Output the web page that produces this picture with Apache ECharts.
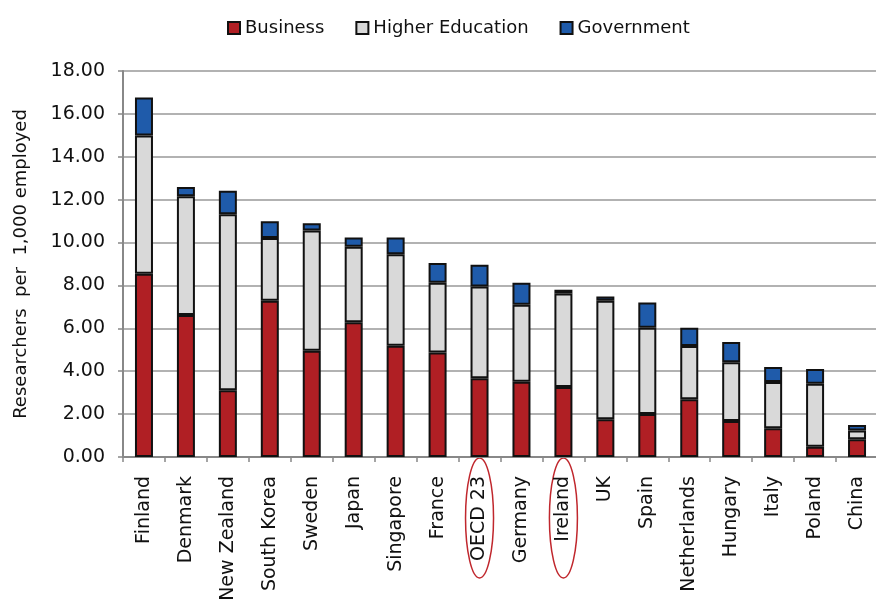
<!DOCTYPE html>
<html>
<head>
<meta charset="utf-8">
<script src="https://cdn.jsdelivr.net/npm/echarts@6/dist/echarts.min.js"></script>
<style>
  html, body { margin: 0; padding: 0; background: #fff; }
  #chart { width: 876px; height: 605px; }
</style>
</head>
<body>
<div id="chart"></div>
<script>
const countries = ['Finland', 'Denmark', 'New Zealand', 'South Korea', 'Sweden', 'Japan', 'Singapore', 'France', 'OECD 23', 'Germany', 'Ireland', 'UK', 'Spain', 'Netherlands', 'Hungary', 'Italy', 'Poland', 'China'];
const business = [8.54, 6.62, 3.11, 7.29, 4.96, 6.28, 5.19, 4.87, 3.67, 3.51, 3.26, 1.76, 2.01, 2.69, 1.68, 1.34, 0.48, 0.83];
const higherEd = [6.45, 5.54, 8.21, 2.92, 5.60, 3.53, 4.26, 3.25, 4.28, 3.59, 4.36, 5.53, 4.02, 2.49, 2.74, 2.16, 2.94, 0.41];
const government = [1.77, 0.43, 1.09, 0.78, 0.34, 0.42, 0.78, 0.93, 1.01, 1.03, 0.18, 0.19, 1.17, 0.85, 0.94, 0.70, 0.68, 0.25];
const circled = ['OECD 23', 'Ireland'];

const font = 'DejaVu Sans, sans-serif';

function barSeries(name, data, color) {
  return {
    name: name,
    type: 'bar',
    stack: 'total',
    barWidth: 18,
    data: data,
    itemStyle: { color: color, borderColor: '#111', borderWidth: 2 }
  };
}

const chart = echarts.init(document.getElementById('chart'));
chart.setOption({
  animation: false,
  textStyle: { fontFamily: font },
  legend: {
    top: 14,
    left: 222,
    itemWidth: 12,
    itemHeight: 12,
    itemGap: 31,
    icon: 'rect',
    textStyle: { fontSize: 18, color: '#111', fontFamily: font },
    data: ['Business', 'Higher Education', 'Government']
  },
  grid: { left: 123, right: -2, top: 71, bottom: 148, outerBoundsMode: 'none', containLabel: false },
  xAxis: {
    type: 'category',
    data: countries,
    axisLine: { lineStyle: { color: '#888', width: 2 } },
    axisTick: { show: true, length: 5, lineStyle: { color: '#888', width: 1.5 } },
    axisLabel: { rotate: 90, margin: 19, fontSize: 19, color: '#111', interval: 0, hideOverlap: false }
  },
  yAxis: {
    type: 'value',
    min: 0,
    max: 18,
    interval: 2,
    name: 'Researchers  per  1,000 employed',
    nameLocation: 'middle',
    nameGap: 93,
    nameTextStyle: { fontSize: 18, color: '#111' },
    axisLine: { show: true, lineStyle: { color: '#888', width: 2 } },
    axisTick: { show: true, length: 5, lineStyle: { color: '#888', width: 1.5 } },
    axisLabel: { fontSize: 19, color: '#111', margin: 18, formatter: v => v.toFixed(2) },
    splitLine: { lineStyle: { color: '#999', width: 1.5 } }
  },
  series: [
    barSeries('Business', business, '#B01F24'),
    barSeries('Higher Education', higherEd, '#D9D9D9'),
    barSeries('Government', government, '#1F5BAA')
  ]
});

// red ellipses around highlighted category labels
const baseY = chart.convertToPixel({ yAxisIndex: 0 }, 0);
chart.setOption({
  graphic: circled.map(c => ({
    type: 'ellipse',
    shape: { cx: chart.convertToPixel({ xAxisIndex: 0 }, c), cy: baseY + 61, rx: 14, ry: 60 },
    style: { fill: 'none', stroke: '#C0272D', lineWidth: 1.5 },
    silent: true
  }))
});
</script>
</body>
</html>
